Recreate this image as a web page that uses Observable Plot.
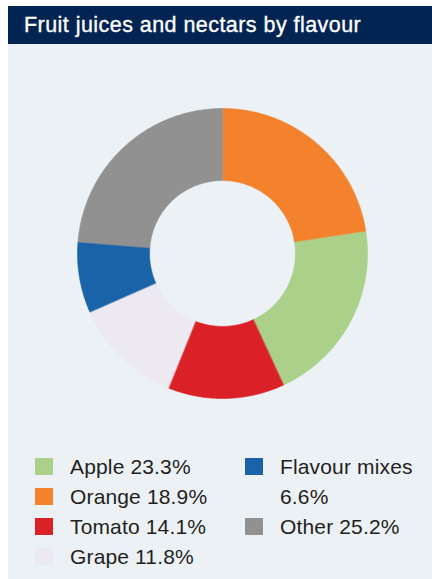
<!DOCTYPE html>
<html>
<head>
<meta charset="utf-8">
<script src="https://cdn.jsdelivr.net/npm/d3@7"></script>
<script src="https://cdn.jsdelivr.net/npm/@observablehq/plot@0.6"></script>
<style>
  html, body { margin: 0; padding: 0; background: #ffffff; }
  body { width: 432px; height: 579px; position: relative; overflow: hidden; font-family: "Liberation Sans", Arial, sans-serif; }
  #panel { position: absolute; left: 8px; top: 6px; width: 424px; height: 573px; background: #ecf1f6; }
  #title { position: absolute; left: 0; top: 0; width: 424px; height: 38px; background: #022453; }
  #title span { position: absolute; left: 16px; top: 9px; color: #ffffff; font-size: 21.5px; line-height: 21px; letter-spacing: 0.45px; -webkit-text-stroke: 0.35px #ffffff; white-space: nowrap; }
  #chart { position: absolute; left: 0; top: 38px; }
  .col { position: absolute; top: 446px; }
  .item { display: flex; align-items: flex-start; font-size: 21px; letter-spacing: 0.15px; line-height: 30px; color: #231f20; }
  .sw { width: 18px; height: 17px; margin-top: 6px; flex: none; }
  .lab { margin-left: 17px; }
</style>
</head>
<body>
<div id="panel">
  <div id="title"><span>Fruit juices and nectars by flavour</span></div>
  <div id="chart"></div>
  <div class="col" id="col0" style="left:27px;"></div>
  <div class="col" id="col1" style="left:237px; width:190px;"></div>
</div>
<script>
// ---- data ----
const flavours = ["Apple", "Orange", "Tomato", "Grape", "Flavour mixes", "Other"];
const legendPct = ["23.3%", "18.9%", "14.1%", "11.8%", "6.6%", "25.2%"];
const colours = ["#abd08a", "#f4812b", "#da2128", "#ece9f0", "#1b63a8", "#919191"];
// slice order clockwise from 12 o'clock, and the share of the ring each slice takes in the picture
const sliceOrder = ["Orange", "Apple", "Tomato", "Grape", "Flavour mixes", "Other"];
const sliceShare = [22.6, 20.5, 13.0, 12.3, 7.9, 23.7];
const innerRatio = 0.503;
const legendCols = [["Apple", "Orange", "Tomato", "Grape"], ["Flavour mixes", "Other"]];

// ---- ring geometry from the shares ----
const total = d3.sum(sliceShare);
const pts = [];
let acc = 0;
sliceOrder.forEach((name, i) => {
  const a0 = acc / total * 2 * Math.PI;
  acc += sliceShare[i];
  const a1 = acc / total * 2 * Math.PI;
  const n = Math.max(8, Math.ceil((a1 - a0) / 0.01));
  for (let k = 0; k <= n; k++) {
    const a = a0 + (a1 - a0) * k / n;
    pts.push({flavour: name, x: Math.sin(a), y: Math.cos(a)});
  }
  for (let k = n; k >= 0; k--) {
    const a = a0 + (a1 - a0) * k / n;
    pts.push({flavour: name, x: innerRatio * Math.sin(a), y: innerRatio * Math.cos(a)});
  }
});

const cx = 214, cy = 209, R = 145;
const chart = Plot.plot({
  width: 424,
  height: 385,
  margin: 0,
  style: {background: "transparent"},
  x: {domain: [-1, 1], range: [cx - R, cx + R], axis: null},
  y: {domain: [-1, 1], range: [cy + R, cy - R], axis: null},
  color: {domain: flavours, range: colours},
  marks: [
    Plot.line(pts, {x: "x", y: "y", z: "flavour", fill: "flavour", stroke: "flavour", strokeWidth: 0.6, curve: "linear-closed"})
  ]
});
document.getElementById("chart").appendChild(chart);

// ---- legend ----
legendCols.forEach((names, c) => {
  const col = document.getElementById("col" + c);
  names.forEach(name => {
    const i = flavours.indexOf(name);
    const item = document.createElement("div");
    item.className = "item";
    const sw = document.createElement("div");
    sw.className = "sw";
    sw.style.background = colours[i];
    const lab = document.createElement("div");
    lab.className = "lab";
    lab.textContent = name + " " + legendPct[i];
    item.appendChild(sw);
    item.appendChild(lab);
    col.appendChild(item);
  });
});
</script>
</body>
</html>
